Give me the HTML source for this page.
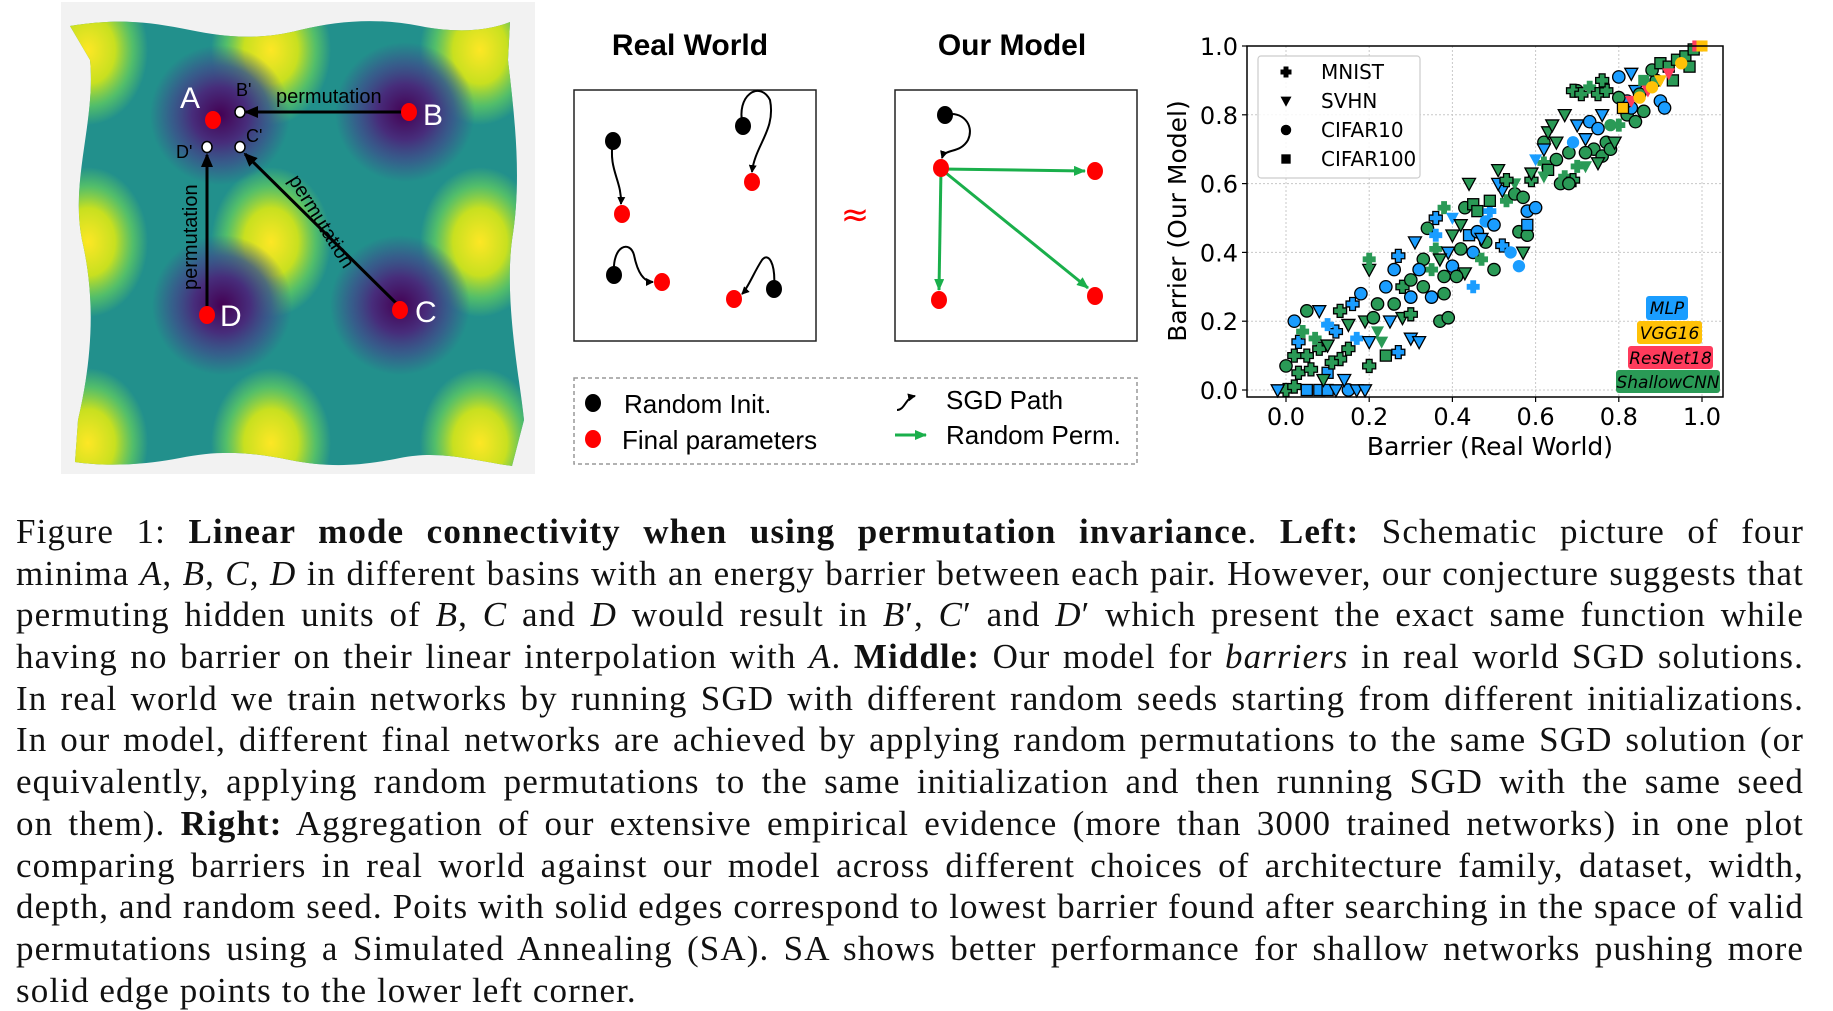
<!DOCTYPE html>
<html><head><meta charset="utf-8">
<style>
html,body{margin:0;padding:0;background:#fff;}
body{width:1833px;height:1011px;position:relative;overflow:hidden;}
#top{position:absolute;left:0;top:0;}
#caption{position:absolute;left:16px;top:511px;width:1788px;font-family:"Liberation Serif",serif;font-size:35px;letter-spacing:1.1px;color:#111;}
#caption .ln{height:41.7px;line-height:41.7px;text-align:justify;text-align-last:justify;white-space:nowrap;}
#caption .ln.last{text-align-last:left;}
.sans{font-family:"Liberation Sans","DejaVu Sans",sans-serif;}
</style></head>
<body>
<svg id="top" width="1833" height="480" viewBox="0 0 1833 480" xmlns="http://www.w3.org/2000/svg">
<defs>
<radialGradient id="gy"><stop offset="0" stop-color="#fde725"/><stop offset="0.45" stop-color="#c8e020"/><stop offset="0.75" stop-color="#5ec962" stop-opacity="0.8"/><stop offset="1" stop-color="#5ec962" stop-opacity="0"/></radialGradient>
<radialGradient id="gp"><stop offset="0" stop-color="#440154"/><stop offset="0.4" stop-color="#472d7b"/><stop offset="0.7" stop-color="#3b528b" stop-opacity="0.8"/><stop offset="1" stop-color="#3b528b" stop-opacity="0"/></radialGradient>
<clipPath id="surf"><path d="M70,26 C120,18 150,22 190,30 C230,38 260,40 300,30 C340,20 380,18 420,26 C460,34 490,30 510,22 L508,60 C515,120 522,180 512,240 C504,300 520,380 524,420 L512,466 C470,460 440,450 400,458 C360,466 330,468 290,460 C250,452 220,450 180,458 C140,466 100,466 75,462 L78,420 C92,360 96,300 82,240 C70,180 96,120 90,60 Z"/></clipPath>
<marker id="ab" markerWidth="8" markerHeight="8" refX="7" refY="4" orient="auto" markerUnits="userSpaceOnUse"><path d="M0,0 L8,4 L0,8 Z" fill="#000"/></marker>
<marker id="abig" markerWidth="14" markerHeight="12" refX="12" refY="6" orient="auto" markerUnits="userSpaceOnUse"><path d="M0,0 L14,6 L0,12 Z" fill="#000"/></marker>
<marker id="ag" markerWidth="12" markerHeight="10" refX="11" refY="5" orient="auto" markerUnits="userSpaceOnUse"><path d="M0,0 L12,5 L0,10 Z" fill="#1aaf4b"/></marker>
</defs>
<g>
<rect x="61" y="2" width="474" height="472" fill="#f2f2f2"/>
<g clip-path="url(#surf)">
<rect x="60" y="10" width="480" height="470" fill="#22908c"/>
<g fill="url(#gy)">
<ellipse cx="88" cy="50" rx="60" ry="75"/><ellipse cx="271" cy="50" rx="60" ry="75"/><ellipse cx="480" cy="50" rx="60" ry="75"/>
<ellipse cx="88" cy="242" rx="60" ry="75"/><ellipse cx="271" cy="242" rx="60" ry="75"/><ellipse cx="480" cy="242" rx="60" ry="75"/>
<ellipse cx="88" cy="443" rx="60" ry="75"/><ellipse cx="271" cy="443" rx="60" ry="75"/><ellipse cx="480" cy="443" rx="60" ry="75"/>
</g>
<g fill="url(#gp)">
<ellipse cx="220" cy="115" rx="70" ry="70"/><ellipse cx="405" cy="112" rx="70" ry="70"/>
<ellipse cx="222" cy="305" rx="70" ry="70"/><ellipse cx="400" cy="305" rx="70" ry="70"/>
</g>
</g>
<line x1="402" y1="112" x2="246" y2="112" stroke="#000" stroke-width="3" marker-end="url(#abig)"/>
<line x1="207" y1="312" x2="207" y2="155" stroke="#000" stroke-width="3" marker-end="url(#abig)"/>
<line x1="398" y1="305" x2="245" y2="154" stroke="#000" stroke-width="3" marker-end="url(#abig)"/>
<ellipse cx="213" cy="120" rx="8" ry="9" fill="#f00"/>
<ellipse cx="409" cy="112" rx="8" ry="9" fill="#f00"/>
<ellipse cx="207" cy="315" rx="8" ry="9" fill="#f00"/>
<ellipse cx="400" cy="310" rx="8" ry="9" fill="#f00"/>
<ellipse cx="240" cy="112" rx="5" ry="5.5" fill="#fff" stroke="#000" stroke-width="1.5"/>
<ellipse cx="240" cy="147" rx="5" ry="5.5" fill="#fff" stroke="#000" stroke-width="1.5"/>
<ellipse cx="207" cy="147" rx="5" ry="5.5" fill="#fff" stroke="#000" stroke-width="1.5"/>
<g class="sans" fill="#fff" font-size="30">
<text x="180" y="108">A</text><text x="423" y="125">B</text><text x="220" y="326">D</text><text x="415" y="322">C</text>
</g>
<g class="sans" fill="#000" font-size="18">
<text x="236" y="96">B'</text><text x="246" y="142">C'</text><text x="176" y="158">D'</text>
<text x="276" y="103" font-size="20">permutation</text>
<text transform="translate(197,290) rotate(-90)" font-size="20">permutation</text>
<text transform="translate(288,180) rotate(58)" font-size="20">permutation</text>
</g>
</g>
<g>
<text x="690" y="55" text-anchor="middle" class="sans" font-size="30" font-weight="bold">Real World</text>
<text x="1012" y="55" text-anchor="middle" class="sans" font-size="30" font-weight="bold">Our Model</text>
<rect x="574" y="90" width="242" height="251" fill="none" stroke="#222" stroke-width="1.5"/>
<rect x="895" y="90" width="242" height="251" fill="none" stroke="#222" stroke-width="1.5"/>
<g fill="none" stroke="#000" stroke-width="2">
<path d="M613,141 C608,170 622,180 621,204" marker-end="url(#ab)"/>
<path d="M743,126 C735,95 760,80 770,100 C776,130 755,145 752,172" marker-end="url(#ab)"/>
<path d="M614,274 C612,245 630,240 634,255 C638,275 645,282 653,282" marker-end="url(#ab)"/>
<path d="M774,289 C776,262 768,252 762,260 C754,272 748,288 742,294" marker-end="url(#ab)"/>
<path d="M945,115 C962,110 975,125 968,140 C960,154 945,148 942,158" marker-end="url(#ab)"/>
</g>
<g fill="#000"><ellipse cx="613" cy="141" rx="8" ry="9"/><ellipse cx="743" cy="126" rx="8" ry="9"/><ellipse cx="614" cy="275" rx="8" ry="9"/><ellipse cx="774" cy="289" rx="8" ry="9"/><ellipse cx="945" cy="115" rx="8" ry="9"/></g>
<g stroke="#1aaf4b" stroke-width="3">
<line x1="941" y1="169" x2="1085" y2="171" marker-end="url(#ag)"/>
<line x1="941" y1="169" x2="939" y2="290" marker-end="url(#ag)"/>
<line x1="941" y1="169" x2="1088" y2="288" marker-end="url(#ag)"/>
</g>
<g fill="#f00"><ellipse cx="622" cy="214" rx="8" ry="9"/><ellipse cx="752" cy="182" rx="8" ry="9"/><ellipse cx="662" cy="282" rx="8" ry="9"/><ellipse cx="734" cy="299" rx="8" ry="9"/>
<ellipse cx="941" cy="168" rx="8" ry="9"/><ellipse cx="1095" cy="171" rx="8" ry="9"/><ellipse cx="939" cy="300" rx="8" ry="9"/><ellipse cx="1095" cy="296" rx="8" ry="9"/></g>
<text x="855" y="226" text-anchor="middle" fill="#f00" font-size="34" font-family="DejaVu Sans,sans-serif">≈</text>
<g>
<rect x="574" y="378" width="563" height="86" fill="none" stroke="#999" stroke-width="1.5" stroke-dasharray="4,3"/>
<ellipse cx="593" cy="403" rx="8" ry="9" fill="#000"/>
<ellipse cx="593" cy="439" rx="8" ry="9" fill="#f00"/>
<text x="624" y="413" class="sans" font-size="26">Random Init.</text>
<text x="622" y="449" class="sans" font-size="26">Final parameters</text>
<path d="M897,410 C905,410 905,398 915,396" fill="none" stroke="#000" stroke-width="2" marker-end="url(#ab)"/>
<text x="946" y="409" class="sans" font-size="26">SGD Path</text>
<line x1="895" y1="435" x2="926" y2="435" stroke="#1aaf4b" stroke-width="3" marker-end="url(#ag)"/>
<text x="946" y="444" class="sans" font-size="26">Random Perm.</text>
</g>
</g>
<g id="chart"></g>
</svg>

<div id="caption">
<div class="ln">Figure 1: <b>Linear mode connectivity when using permutation invariance</b>. <b>Left:</b> Schematic picture of four</div>
<div class="ln">minima <i>A</i>, <i>B</i>, <i>C</i>, <i>D</i> in different basins with an energy barrier between each pair. However, our conjecture suggests that</div>
<div class="ln">permuting hidden units of <i>B</i>, <i>C</i> and <i>D</i> would result in <i>B</i>′, <i>C</i>′ and <i>D</i>′ which present the exact same function while</div>
<div class="ln">having no barrier on their linear interpolation with <i>A</i>. <b>Middle:</b> Our model for <i>barriers</i> in real world SGD solutions.</div>
<div class="ln">In real world we train networks by running SGD with different random seeds starting from different initializations.</div>
<div class="ln">In our model, different final networks are achieved by applying random permutations to the same SGD solution (or</div>
<div class="ln">equivalently, applying random permutations to the same initialization and then running SGD with the same seed</div>
<div class="ln">on them). <b>Right:</b> Aggregation of our extensive empirical evidence (more than 3000 trained networks) in one plot</div>
<div class="ln">comparing barriers in real world against our model across different choices of architecture family, dataset, width,</div>
<div class="ln">depth, and random seed. Poits with solid edges correspond to lowest barrier found after searching in the space of valid</div>
<div class="ln">permutations using a Simulated Annealing (SA). SA shows better performance for shallow networks pushing more</div>
<div class="ln last">solid edge points to the lower left corner.</div>
</div>

<script>
const xTicks = [0.0, 0.2, 0.4, 0.6, 0.8, 1.0];
const yTicks = [0.0, 0.2, 0.4, 0.6, 0.8, 1.0];
const tickLabels = ["0.0", "0.2", "0.4", "0.6", "0.8", "1.0"];
const datasets = ["MNIST", "SVHN", "CIFAR10", "CIFAR100"];
const archNames = ["MLP", "VGG16", "ResNet18", "ShallowCNN"];
const realBarrier = [0.0,0.02,0.05,0.08,0.1,0.12,0.15,0.17,0.19,-0.02,0.03,0.0,0.05,0.08,0.03,0.07,0.1,0.12,0.15,0.1,0.02,0.08,0.02,0.06,0.13,0.1,0.15,0.17,0.19,0.2,0.14,0.13,0.16,0.21,0.18,0.05,0.04,0.11,0.09,
0.2,0.24,0.27,0.23,0.25,0.22,0.26,0.24,0.28,0.3,0.26,0.2,0.2,0.27,0.3,0.32,0.28,0.22,0.3,
0.3,0.33,0.35,0.35,0.33,0.31,0.36,0.38,0.38,0.37,0.39,0.34,0.36,0.39,0.37,0.4,0.4,0.32,0.36,0.38,
0.4,0.42,0.43,0.45,0.46,0.44,0.46,0.42,0.45,0.48,0.43,0.41,0.47,0.49,0.45,0.47,0.44,0.49,0.48,0.5,
0.5,0.52,0.53,0.55,0.57,0.58,0.56,0.54,0.57,0.52,0.51,0.55,0.59,0.58,0.59,0.56,0.6,0.58,0.51,0.53,
0.62,0.63,0.65,0.68,0.66,0.62,0.63,0.64,0.62,0.65,0.67,0.7,0.67,0.62,0.6,0.69,0.69,0.7,0.68,
0.72,0.73,0.75,0.74,0.76,0.77,0.72,0.78,0.79,0.75,0.72,0.76,0.78,0.7,0.69,0.71,0.73,0.75,0.77,0.76,
0.8,0.82,0.84,0.86,0.83,0.82,0.8,0.8,0.83,0.84,0.87,0.89,0.9,0.91,0.85,0.88,0.9,0.92,0.94,0.96,0.98,0.97,0.93,0.81,0.83,0.85,0.87,0.88,0.9,0.92,0.95,0.99,1.0,0.86];
const modelBarrier = [0.0,0.01,0.0,0.0,0.0,0.0,0.0,0.0,0.0,0.0,0.05,0.07,0.1,0.12,0.14,0.15,0.13,0.17,0.19,0.19,0.2,0.23,0.1,0.06,0.09,0.05,0.12,0.15,0.2,0.14,0.03,0.23,0.25,0.21,0.28,0.23,0.17,0.08,0.03,
0.07,0.1,0.11,0.14,0.2,0.25,0.25,0.3,0.3,0.27,0.35,0.35,0.38,0.39,0.15,0.14,0.21,0.17,0.22,
0.32,0.3,0.27,0.35,0.38,0.43,0.41,0.33,0.28,0.2,0.21,0.47,0.45,0.4,0.38,0.45,0.36,0.35,0.5,0.53,
0.5,0.48,0.53,0.54,0.52,0.45,0.46,0.41,0.4,0.43,0.34,0.33,0.44,0.52,0.3,0.38,0.6,0.55,0.49,0.48,
0.35,0.42,0.55,0.57,0.56,0.52,0.46,0.4,0.4,0.58,0.6,0.6,0.61,0.45,0.63,0.36,0.53,0.48,0.64,0.61,
0.66,0.64,0.67,0.69,0.6,0.72,0.75,0.77,0.7,0.72,0.8,0.65,0.62,0.62,0.67,0.61,0.72,0.77,0.6,
0.73,0.78,0.76,0.7,0.68,0.72,0.69,0.7,0.72,0.66,0.65,0.8,0.77,0.87,0.87,0.86,0.88,0.86,0.87,0.9,
0.77,0.8,0.78,0.81,0.82,0.84,0.85,0.91,0.92,0.87,0.88,0.9,0.84,0.82,0.86,0.93,0.95,0.94,0.96,0.97,0.99,0.94,0.9,0.82,0.84,0.85,0.87,0.88,0.9,0.92,0.95,1.0,1.0,0.9];
const archCode = "SSMMMMMMMMSSSSMSSMSMMMSSSMSMSMMSMSMSSSS"+"SSMSMSSMSMMSSMMMSSS"+"SSMSSMSSSSSSMMSSMMMS"+"MSSSSMMSMSSSMMMSSSMM"+"SMSSSMSMSMMSSSSMMMSS"+"SSSSSSSSMSSSSSMSMMS"+"MMMSSSSSSSSMSSSSSSSS"+"SSSSMMSMMMSSMMSSSSSSSSSVRVRVVRVRVS";
const datasetCode = "mmhhhscsssmcmmmmsmsmcsmmmhmmsssmmcccmmsm"+"hmsscccmccsmmssssmc".slice(0,19)+"ccmcsmcccccmsssccmms".slice(0,20)+"schhhccccscsmmmshcccc".slice(0,20)+"mmcccccssssmcscchsmm".slice(0,20)+"hccccsssssmmssmcscs".slice(0,19)+"cccccccssssccmmmmmmm".slice(0,20)+"cccccccsssccccchhhhhhhhscscsschhhm".slice(0,34);
const solidEdge = "1111111111111110111011111110111111110111"+"1101111111101111011".slice(0,19)+"11011011111011111100".slice(0,20)+"11111111111100011011".slice(0,20)+"10111101110111011110".slice(0,20)+"1111111111000010111".slice(0,19)+"11111111101011101110".slice(0,20)+"1111111111111111111111100000000000".slice(0,34);
</script>
<script>
(function(){
const NS="http://www.w3.org/2000/svg";
const g=document.getElementById('chart');
const L=1247,R=1723,T=46,B=397;
const sx=v=>1286+(v-0)*(1702-1286);
const sy=v=>390-(v-0)*(390-46);
function mk(tag,attrs,parent){const e=document.createElementNS(NS,tag);for(const k in attrs)e.setAttribute(k,attrs[k]);(parent||g).appendChild(e);return e;}
xTicks.forEach((t,i)=>{
  const gl=mk('line',{x1:sx(t),x2:sx(t),y1:T,y2:B,stroke:'#c8c8c8','stroke-width':1,'stroke-dasharray':'2,2'});
  
  
  const tk=mk('line',{x1:sx(t),x2:sx(t),y1:B,y2:B+5,stroke:'#000','stroke-width':1.2});
  
  
  const tl=mk('text',{x:sx(t),y:B+28,'text-anchor':'middle','font-size':24,'font-family':'DejaVu Sans,sans-serif'});
  tl.textContent=tickLabels[i];
  
  
});
yTicks.forEach((t,i)=>{
  const gl=mk('line',{x1:L,x2:R,y1:sy(t),y2:sy(t),stroke:'#c8c8c8','stroke-width':1,'stroke-dasharray':'2,2'});
  
  
  const tk=mk('line',{x1:L-5,x2:L,y1:sy(t),y2:sy(t),stroke:'#000','stroke-width':1.2});
  
  
  const tl=mk('text',{x:L-9,y:sy(t)+9,'text-anchor':'end','font-size':24,'font-family':'DejaVu Sans,sans-serif'});
  tl.textContent=tickLabels[i];
  
  
});
const colors={M:'#1a9dff',V:'#ffc107',R:'#ff3b5c',S:'#2a9a56'};
function marker(ds,x,y,fill,edge,parent,s){
  s=s||6.5;let e;
  const st=edge?{stroke:'#000','stroke-width':1.3}:{stroke:'none'};
  if(ds==='m'){const w=s*0.45;e=mk('path',Object.assign({d:`M${x-w},${y-s}h${2*w}v${s-w}h${s-w}v${2*w}h${-(s-w)}v${s-w}h${-2*w}v${-(s-w)}h${-(s-w)}v${-2*w}h${s-w}z`,fill:fill},st),parent);}
  else if(ds==='s'){e=mk('path',Object.assign({d:`M${x-s},${y-s*0.8}L${x+s},${y-s*0.8}L${x},${y+s*1.05}Z`,fill:fill},st),parent);}
  else if(ds==='c'){e=mk('circle',Object.assign({cx:x,cy:y,r:s*0.95,fill:fill},st),parent);}
  else {e=mk('rect',Object.assign({x:x-s*0.85,y:y-s*0.85,width:s*1.7,height:s*1.7,fill:fill},st),parent);}
  return e;
}
const pg=mk('g',{});


for(let pass=0;pass<2;pass++){
for(let i=0;i<realBarrier.length;i++){
  const edge=solidEdge[i]==='1';
  const a=archCode[i]||'S';
  const isTop=(a==='V'||a==='R');
  if((pass===1)!==isTop) continue;
  const el=marker(datasetCode[i]||'c',sx(realBarrier[i]),sy(modelBarrier[i]),colors[a],edge,pg);
  
  
}}
const ax=mk('rect',{x:L,y:T,width:R-L,height:B-T,fill:'none',stroke:'#000','stroke-width':1.5});


const xt=mk('text',{x:1490,y:455,'text-anchor':'middle','font-size':25,'font-family':'DejaVu Sans,sans-serif'});
xt.textContent='Barrier (Real World)';


const yt=mk('text',{transform:'translate(1186,221) rotate(-90)','text-anchor':'middle','font-size':25,'font-family':'DejaVu Sans,sans-serif'});
yt.textContent='Barrier (Our Model)';


const lg=mk('g',{});


mk('rect',{x:1258,y:56,width:162,height:122,rx:3,fill:'#fff','fill-opacity':0.85,stroke:'#ccc','stroke-width':1.2},lg);
const codes=['m','s','c','h'];
datasets.forEach((d,i)=>{
  const y=72+i*29;
  marker(codes[i],1286,y,'#000',false,lg,5.5);
  const t=mk('text',{x:1321,y:y+7,'font-size':20,'font-family':'DejaVu Sans,sans-serif'},lg);
  t.textContent=d;
  
  
});
const boxes=[[1646,296,42,24,'#1a9dff'],[1637,321,65,23,'#ffc107'],[1628,346,85,23,'#ff3b5c'],[1616,370,104,23,'#2a9a56']];
archNames.forEach((n,i)=>{
  const b=boxes[i];
  const r=mk('rect',{x:b[0],y:b[1],width:b[2],height:b[3],rx:3,fill:b[4]});
  
  
  const t=mk('text',{x:b[0]+b[2]/2,y:b[1]+18,'text-anchor':'middle','font-size':17,'font-style':'italic','font-family':'DejaVu Sans,sans-serif'});
  t.textContent=n;
  
  
});
})();
</script>
</body></html>
